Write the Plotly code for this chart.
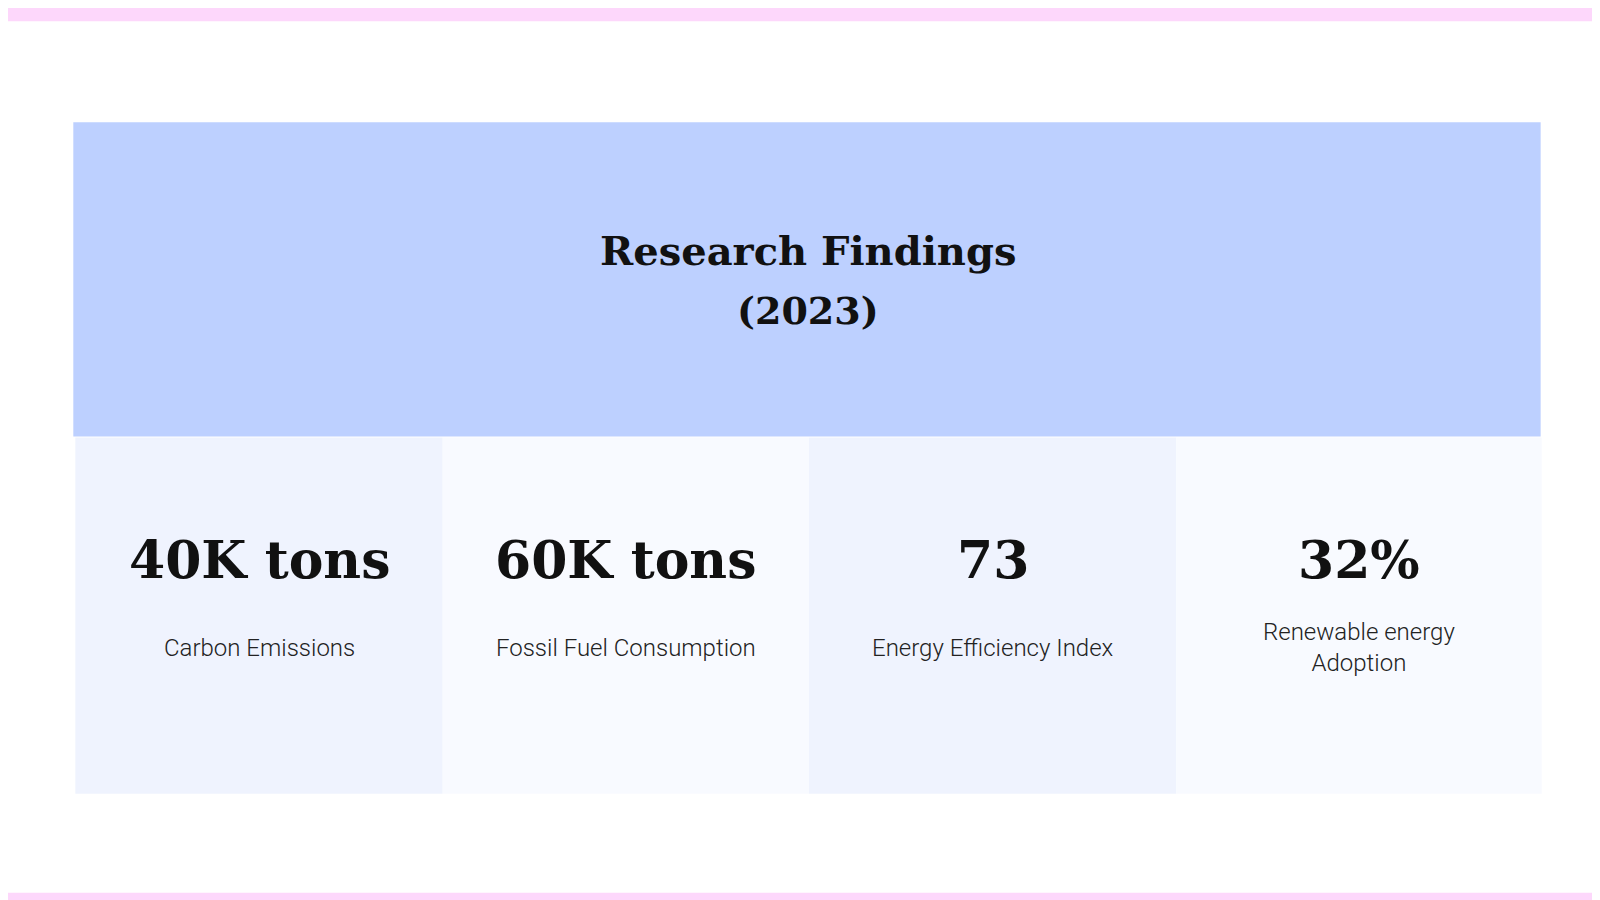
import plotly.graph_objects as go

title = "Research Findings"
subtitle = "(2023)"
values = ["40K tons", "60K tons", "73", "32%"]
labels = ["Carbon Emissions", "Fossil Fuel Consumption", "Energy Efficiency Index", "Renewable energy<br>Adoption"]

W, H = 1568, 882
def px(x): return x / W
def py(y): return 1 - y / H

fig = go.Figure()
shapes = []
shapes.append(dict(type="rect", xref="paper", yref="paper", x0=0, x1=1, y0=py(13), y1=1, fillcolor="#FDD7FB", line_width=0, layer="below"))
shapes.append(dict(type="rect", xref="paper", yref="paper", x0=0, x1=1, y0=0, y1=py(867), fillcolor="#FDD7FB", line_width=0, layer="below"))
shapes.append(dict(type="rect", xref="paper", yref="paper", x0=px(64), x1=px(1502), y0=py(420), y1=py(112), fillcolor="#BDD0FF", line_width=0, layer="below"))
bounds = [66, 426, 785, 1145, 1503]
fills = ["#EFF3FE", "#F8FAFF", "#EFF3FE", "#F8FAFF"]
serif = dict(family="DejaVu Serif", color="#111", weight="bold")
ann = [
    dict(text=title, x=0.5, y=py(238), font=dict(size=40, **serif)),
    dict(text=subtitle, x=0.5, y=py(296), font=dict(size=38, **serif)),
]
for i, (v, l) in enumerate(zip(values, labels)):
    shapes.append(dict(type="rect", xref="paper", yref="paper", x0=px(bounds[i]), x1=px(bounds[i+1]), y0=py(770), y1=py(421), fillcolor=fills[i], line_width=0, layer="below"))
    cx = px((bounds[i] + bounds[i+1]) / 2)
    ann.append(dict(text=v, x=cx, y=py(540), font=dict(size=52, **serif)))
    ann.append(dict(text=l, x=cx, y=py(627), font=dict(family="Roboto", size=24, color="#222", weight=300)))
for a in ann:
    a.update(xref="paper", yref="paper", showarrow=False, xanchor="center", yanchor="middle")

fig.update_layout(width=1600, height=900, margin=dict(l=0, r=0, t=0, b=0),
                  paper_bgcolor="white", plot_bgcolor="white",
                  xaxis=dict(visible=False), yaxis=dict(visible=False),
                  shapes=shapes, annotations=ann, showlegend=False)
fig.write_html("out.html")
